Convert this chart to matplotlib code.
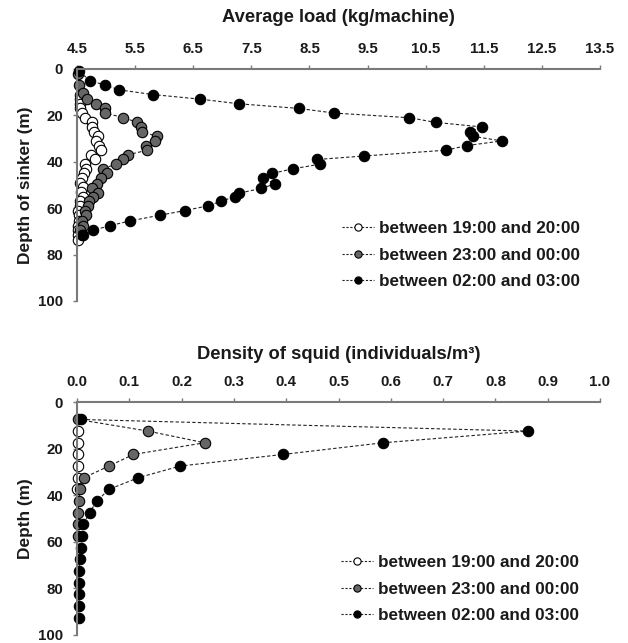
import numpy as np
import matplotlib
matplotlib.use('Agg')
import matplotlib.pyplot as plt
from matplotlib.lines import Line2D

plt.rcParams['font.family'] = ['Liberation Sans', 'DejaVu Sans']
plt.rcParams['font.weight'] = 'bold'

labels = ['between 19:00 and 20:00', 'between 23:00 and 00:00', 'between 02:00 and 03:00']
face_colors = ['white', '#666666', 'black']

# 平均负荷 (kg/machine) vs 沉子深度
load_depth_1920 = [11, 13, 15, 17, 19, 21, 23, 25, 27, 29, 31, 33, 35, 37, 39, 41, 43, 45,
                   47, 49, 51, 53, 55, 57, 59, 61, 63, 65.5, 67.5, 69.5, 71.5, 73.5]
load_1920 = [4.55, 4.55, 4.56, 4.55, 4.58, 4.64, 4.76, 4.75, 4.80, 4.86, 4.82, 4.88, 4.91, 4.74,
             4.81, 4.64, 4.65, 4.62, 4.59, 4.55, 4.60, 4.57, 4.60, 4.55, 4.56, 4.52, 4.53, 4.53,
             4.52, 4.52, 4.52, 4.51]

load_depth_2300 = [2, 7, 10.5, 13, 15, 17, 19, 21, 23, 25, 27, 29, 31, 33, 35, 37, 39, 41, 43,
                   45, 47, 49.5, 51.5, 53.5, 55, 57, 59, 61, 63, 65.5, 67.5, 69.5, 71.5]
load_2300 = [4.52, 4.54, 4.61, 4.68, 4.83, 4.99, 4.99, 5.30, 5.54, 5.60, 5.61, 5.87, 5.84, 5.68,
             5.71, 5.37, 5.30, 5.17, 4.95, 5.02, 4.91, 4.84, 4.76, 4.86, 4.78, 4.71, 4.69, 4.64,
             4.65, 4.58, 4.60, 4.56, 4.58]

load_depth_0200 = [1, 5, 7, 9, 11, 13, 15, 17, 19, 21, 23, 25, 27, 29, 31, 33, 35, 37.5, 39,
                   41, 43, 45, 47, 49.5, 51.5, 53.5, 55, 57, 59, 61, 63, 65.5, 67.5, 69.5, 71.5]
load_0200 = [4.54, 4.72, 4.99, 5.23, 5.80, 6.62, 7.29, 8.32, 8.93, 10.22, 10.67, 11.47, 11.26,
             11.31, 11.81, 11.21, 10.85, 9.44, 8.63, 8.69, 8.22, 7.86, 7.70, 7.91, 7.67, 7.29,
             7.22, 6.98, 6.75, 6.36, 5.93, 5.41, 5.07, 4.78, 4.60]

# 鱿鱼密度 (individuals/m3) vs 深度
dens_depth_1920 = [12.5, 17.5, 22.5, 27.5, 32.5, 37.5]
dens_1920 = [0.002, 0.001, 0.001, 0.001, 0.001, 0.0]

dens_depth_2300 = [7.5, 12.5, 17.5, 22.5, 27.5, 32.5, 37.5, 42.5, 47.5, 52.5, 57.5]
dens_2300 = [0.002, 0.136, 0.244, 0.108, 0.061, 0.013, 0.006, 0.003, 0.002, 0.001, 0.001]

dens_depth_0200 = [7.5, 12.5, 17.5, 22.5, 27.5, 32.5, 37.5, 42.5, 47.5, 52.5, 57.5, 62.5,
                   67.5, 72.5, 77.5, 82.5, 87.5, 92.5]
dens_0200 = [0.008, 0.862, 0.585, 0.394, 0.197, 0.117, 0.061, 0.038, 0.024, 0.012, 0.010,
             0.007, 0.005, 0.004, 0.004, 0.004, 0.004, 0.004]

load_ticks = [4.5, 5.5, 6.5, 7.5, 8.5, 9.5, 10.5, 11.5, 12.5, 13.5]
dens_ticks = [0.0, 0.1, 0.2, 0.3, 0.4, 0.5, 0.6, 0.7, 0.8, 0.9, 1.0]
depth_ticks = [0, 20, 40, 60, 80, 100]

spine_gray = '#7a7a7a'
line_kw = dict(color='#222222', lw=0.8, linestyle=(0, (3, 2)), marker='o',
               markersize=7.5, markeredgecolor='black', markeredgewidth=0.8)


def style_axis(ax, xlim, xticks, fmt, title, title_off, ylabel):
    ax.set_xlim(xlim)
    ax.set_ylim(100, 0)
    ax.xaxis.tick_top()
    ax.set_xticks(xticks)
    ax.set_xticklabels([fmt.format(t) for t in xticks])
    ax.set_yticks(depth_ticks)
    for s in ['right', 'bottom']:
        ax.spines[s].set_visible(False)
    for s in ['left', 'top']:
        ax.spines[s].set_color(spine_gray)
        ax.spines[s].set_linewidth(1.5)
    ax.tick_params(axis='x', direction='out', length=3, width=1, color=spine_gray,
                   pad=6.5, labelsize=10.8, labelcolor='#1a1a1a')
    ax.tick_params(axis='y', direction='out', length=3, width=1, color=spine_gray,
                   pad=7, labelsize=10.8, labelcolor='#1a1a1a')
    for lab in ax.get_xticklabels() + ax.get_yticklabels():
        lab.set_fontweight('bold')
    # 标题放在顶部刻度标签上方 (title_off 单位: 像素)
    ax.text(0.5, 1 + title_off / 232, title, transform=ax.transAxes, ha='center', va='center',
            fontsize=13.2, fontweight='bold', color='#1a1a1a')
    ax.set_ylabel(ylabel, fontsize=12.4, fontweight='bold', color='#1a1a1a')
    ax.yaxis.set_label_coords(-0.085, 0.5)


def add_legend(ax, anchor):
    handles = [Line2D([], [], color='#222222', lw=0.8, linestyle=(0, (2, 1.5)), marker='o',
                      markersize=5.2, markerfacecolor=fc, markeredgecolor='black',
                      markeredgewidth=0.8) for fc in face_colors]
    leg = ax.legend(handles, labels, loc='upper left', bbox_to_anchor=anchor, frameon=False,
                    prop={'weight': 'bold', 'size': 12.3}, handlelength=1.85,
                    handletextpad=0.3, labelspacing=0.68, borderpad=0, borderaxespad=0)
    for t in leg.get_texts():
        t.set_color('#1a1a1a')


fig = plt.figure(figsize=(6.28, 6.43), dpi=100)
ax1 = fig.add_axes([77 / 628, 1 - 301 / 643, 523 / 628, 232 / 643])
ax2 = fig.add_axes([77 / 628, 1 - 635 / 643, 523 / 628, 233 / 643])

series_load = [(load_1920, load_depth_1920), (load_2300, load_depth_2300), (load_0200, load_depth_0200)]
for (x, d), fc in zip(series_load, face_colors):
    ax1.plot(x, d, markerfacecolor=fc, clip_on=False, **line_kw)
style_axis(ax1, (4.5, 13.5), load_ticks, '{:.1f}', 'Average load (kg/machine)', 51,
           'Depth of sinker (m)')
add_legend(ax1, ((342 - 77) / 523, 1 - (221 - 69) / 232))

series_dens = [(dens_1920, dens_depth_1920), (dens_2300, dens_depth_2300), (dens_0200, dens_depth_0200)]
for (x, d), fc in zip(series_dens, face_colors):
    ax2.plot(x, d, markerfacecolor=fc, clip_on=False, **line_kw)
style_axis(ax2, (0.0, 1.0), dens_ticks, '{:.1f}', 'Density of squid (individuals/m³)', 47,
           'Depth (m)')
add_legend(ax2, ((341 - 77) / 523, 1 - (555 - 402) / 233))

fig.savefig('out.png', dpi=100)
